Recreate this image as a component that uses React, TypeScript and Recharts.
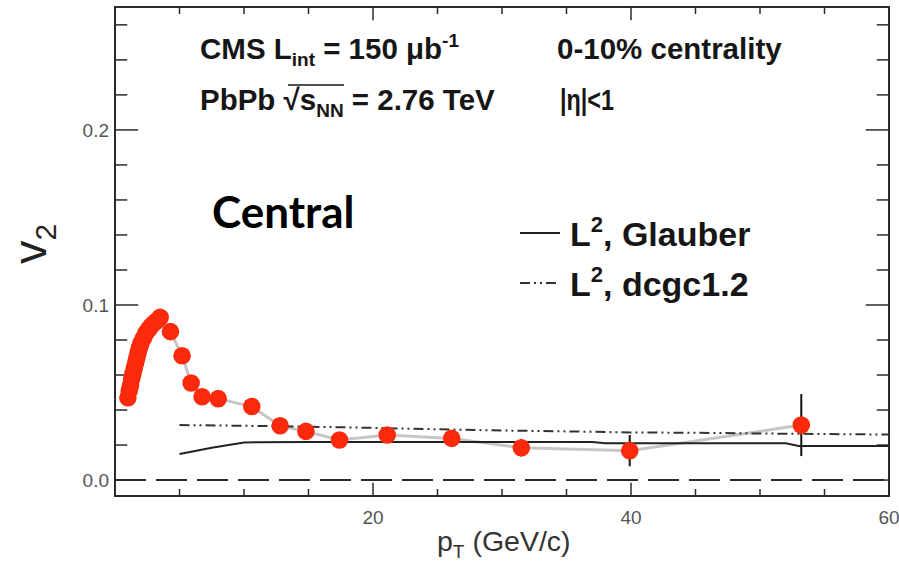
import { ComposedChart, ErrorBar, Line, ReferenceArea, ReferenceLine, Scatter, XAxis, YAxis } from "recharts";

// CMS v2 vs pT, 0-10% centrality
const ptValues = [1.0, 1.1, 1.2, 1.3, 1.4, 1.5, 1.6, 1.7, 1.8, 1.9, 2.0, 2.2, 2.4, 2.6, 2.8, 3.0, 3.25, 3.5, 4.3, 5.2, 5.9, 6.75, 8.0, 10.6, 12.8, 14.8, 17.4, 21.1, 26.1, 31.5, 39.9, 53.2];
const v2Values = [0.047, 0.051, 0.054, 0.058, 0.061, 0.064, 0.067, 0.07, 0.073, 0.0755, 0.078, 0.081, 0.084, 0.086, 0.088, 0.0895, 0.091, 0.093, 0.0848, 0.071, 0.0554, 0.0476, 0.0465, 0.042, 0.031, 0.0278, 0.0229, 0.0257, 0.0238, 0.0185, 0.0168, 0.0314];
const v2Errors = [0, 0, 0, 0, 0, 0, 0, 0, 0, 0, 0, 0, 0, 0, 0, 0, 0, 0, 0, 0, 0, 0, 0, 0.001, 0.002, 0.002, 0.003, 0.003, 0.004, 0.005, 0.0089, 0.0177];

// L^2 model curves
const glauberPt = [5, 7.5, 10, 15, 20, 25, 30, 37, 38, 52, 53, 60];
const glauberV2 = [0.0149, 0.0185, 0.0215, 0.0217, 0.0218, 0.0218, 0.0218, 0.0218, 0.021, 0.021, 0.0194, 0.0194];
const dcgcPt = [5, 10, 15, 20, 25, 30, 35, 40, 45, 50, 55, 60];
const dcgcV2 = [0.0314, 0.031, 0.0305, 0.0298, 0.029, 0.0283, 0.0278, 0.0272, 0.027, 0.0266, 0.0263, 0.026];

const xTicks = [0, 5, 10, 15, 20, 25, 30, 35, 40, 45, 50, 55, 60];
const xLabeled = [20, 40, 60];
const yTicks = [0, 0.02, 0.04, 0.06, 0.08, 0.1, 0.12, 0.14, 0.16, 0.18, 0.2, 0.22, 0.24, 0.26];
const yLabeled = ["0.0", "0.1", "0.2"];

const X_DOMAIN: [number, number] = [0, 60];
const Y_DOMAIN: [number, number] = [-0.0091, 0.2702];

// tick lengths in data units (x: ~12.9 px per GeV, y: ~1751 px per unit)
const X_TICK_MAJOR = 0.0075;
const X_TICK_MINOR = 0.004;
const Y_TICK_MAJOR = 1.8;
const Y_TICK_MINOR = 0.95;

const points = ptValues.map((pt, i) => ({ pt, v2: v2Values[i], err: v2Errors[i] }));
const glauber = glauberPt.map((pt, i) => ({ pt, v2: glauberV2[i] }));
const dcgc = dcgcPt.map((pt, i) => ({ pt, v2: dcgcV2[i] }));

const FRAME = "#2b2b2b";
const LABEL_FONT = "'Liberation Sans', Arial, sans-serif";

function isMajorY(v: number) {
  return Math.abs(v * 10 - Math.round(v * 10)) < 1e-6;
}

function BottomLabel(props: any) {
  const { x, y, payload } = props;
  const v = payload.value as number;
  if (!xLabeled.includes(v)) return <g />;
  return (
    <text x={x} y={y + 28} textAnchor="middle" fontSize={19} fill="#555" fontFamily={LABEL_FONT}>
      {v}
    </text>
  );
}

function LeftLabel(props: any) {
  const { x, y, payload } = props;
  const v = payload.value as number;
  if (!isMajorY(v)) return <g />;
  return (
    <text x={x - 6} y={y + 7} textAnchor="end" fontSize={19} fill="#555" fontFamily={LABEL_FONT}>
      {yLabeled[Math.round(v * 10)]}
    </text>
  );
}

function Dot(props: any) {
  const { cx, cy } = props;
  if (cx == null || cy == null) return null;
  return <circle cx={cx} cy={cy} r={8.8} fill="#fb2a0c" />;
}

export default function App() {
  const bold = { fontFamily: LABEL_FONT, fontWeight: 700, fill: "#161616" };
  const [y0, y1] = Y_DOMAIN;
  const [x0, x1] = X_DOMAIN;
  return (
    <div style={{ position: "absolute", left: 0, top: 0, width: 899, height: 561, background: "#fff" }}>
      <ComposedChart width={899} height={561} margin={{ top: 7, right: 10, bottom: 0, left: 0 }}>
        <XAxis
          type="number"
          dataKey="pt"
          domain={X_DOMAIN}
          ticks={xTicks}
          interval={0}
          height={65}
          tickSize={0}
          tickMargin={0}
          tickLine={false}
          axisLine={false}
          tick={<BottomLabel />}
          allowDataOverflow
        />
        <YAxis
          type="number"
          domain={Y_DOMAIN}
          ticks={yTicks}
          interval={0}
          width={115}
          tickSize={0}
          tickMargin={0}
          tickLine={false}
          axisLine={false}
          tick={<LeftLabel />}
          allowDataOverflow
        />

        {/* frame */}
        <ReferenceArea x1={x0} x2={x1} y1={y0} y2={y1} fill="none" fillOpacity={0} stroke={FRAME} strokeWidth={2} ifOverflow="visible" />

        {/* inward ticks on all four sides */}
        {xTicks.map((t) => {
          const len = t % 20 === 0 ? X_TICK_MAJOR : X_TICK_MINOR;
          return (
            <ReferenceLine
              key={`xb${t}`}
              segment={[{ x: t, y: y0 }, { x: t, y: y0 + len }]}
              stroke={FRAME}
              strokeWidth={1.5}
              ifOverflow="visible"
            />
          );
        })}
        {xTicks.map((t) => {
          const len = t % 20 === 0 ? X_TICK_MAJOR : X_TICK_MINOR;
          return (
            <ReferenceLine
              key={`xt${t}`}
              segment={[{ x: t, y: y1 }, { x: t, y: y1 - len }]}
              stroke={FRAME}
              strokeWidth={1.5}
              ifOverflow="visible"
            />
          );
        })}
        {yTicks.map((t) => {
          const len = isMajorY(t) ? Y_TICK_MAJOR : Y_TICK_MINOR;
          return (
            <ReferenceLine
              key={`yl${t}`}
              segment={[{ x: x0, y: t }, { x: x0 + len, y: t }]}
              stroke={FRAME}
              strokeWidth={1.5}
              ifOverflow="visible"
            />
          );
        })}
        {yTicks.map((t) => {
          const len = isMajorY(t) ? Y_TICK_MAJOR : Y_TICK_MINOR;
          return (
            <ReferenceLine
              key={`yr${t}`}
              segment={[{ x: x1, y: t }, { x: x1 - len, y: t }]}
              stroke={FRAME}
              strokeWidth={1.5}
              ifOverflow="visible"
            />
          );
        })}

        <ReferenceLine y={0} stroke={FRAME} strokeWidth={2} strokeDasharray="31 10" />
        <Line data={points} dataKey="v2" stroke="#c6c6c6" strokeWidth={3} dot={false} isAnimationActive={false} />
        <Line data={glauber} dataKey="v2" stroke="#222" strokeWidth={2} dot={false} isAnimationActive={false} />
        <Line
          data={dcgc}
          dataKey="v2"
          stroke="#333"
          strokeWidth={2}
          strokeDasharray="10 4 2 4 2 4"
          dot={false}
          isAnimationActive={false}
        />
        <Scatter data={points} dataKey="v2" shape={<Dot />} isAnimationActive={false}>
          <ErrorBar dataKey="err" direction="y" width={0} stroke="#111" strokeWidth={2} />
        </Scatter>
      </ComposedChart>

      <svg width={899} height={561} style={{ position: "absolute", left: 0, top: 0, pointerEvents: "none" }}>
        <text x={200} y={59} fontSize={29.5} {...bold}>
          CMS L<tspan fontSize={19} dy={7}>int</tspan>
          <tspan dy={-7}> = 150 μb</tspan>
          <tspan fontSize={19} dy={-12}>-1</tspan>
        </text>
        <text x={200} y={110} fontSize={29.5} {...bold}>
          PbPb √s<tspan fontSize={19} dy={7}>NN</tspan>
          <tspan dy={-7}> = 2.76 TeV</tspan>
        </text>
        <line x1={288} x2={344} y1={85} y2={85} stroke="#161616" strokeWidth={1.5} />
        <text x={557} y={59} fontSize={29.5} {...bold}>
          0-10% centrality
        </text>
        <text x={560} y={110} fontSize={29.5} textLength={54} lengthAdjust="spacingAndGlyphs" {...bold}>
          |η|&lt;1
        </text>

        <text x={212} y={228} fontSize={44} fontFamily="Lato, 'Open Sans', sans-serif" fontWeight={700} fill="#000">
          Central
        </text>

        <line x1={520} x2={560} y1={233} y2={233} stroke="#222" strokeWidth={2} />
        <text x={570} y={246} fontSize={34} {...bold}>
          L<tspan fontSize={22} dy={-14}>2</tspan>
          <tspan dy={14}>, Glauber</tspan>
        </text>
        <line x1={520} x2={560} y1={283} y2={283} stroke="#333" strokeWidth={2} strokeDasharray="10 4 2 4 2 4" />
        <text x={570} y={296} fontSize={34} {...bold}>
          L<tspan fontSize={22} dy={-14}>2</tspan>
          <tspan dy={14}>, dcgc1.2</tspan>
        </text>

        <text transform="translate(46 264) rotate(-90)" fontSize={47} fill="#222" fontFamily={LABEL_FONT}>
          v<tspan fontSize={30} dy={10}>2</tspan>
        </text>
        <text x={437} y={551} fontSize={28.5} fill="#333" fontFamily={LABEL_FONT}>
          p<tspan fontSize={19} dy={7}>T</tspan>
          <tspan dy={-7}> (GeV/c)</tspan>
        </text>
      </svg>
    </div>
  );
}
